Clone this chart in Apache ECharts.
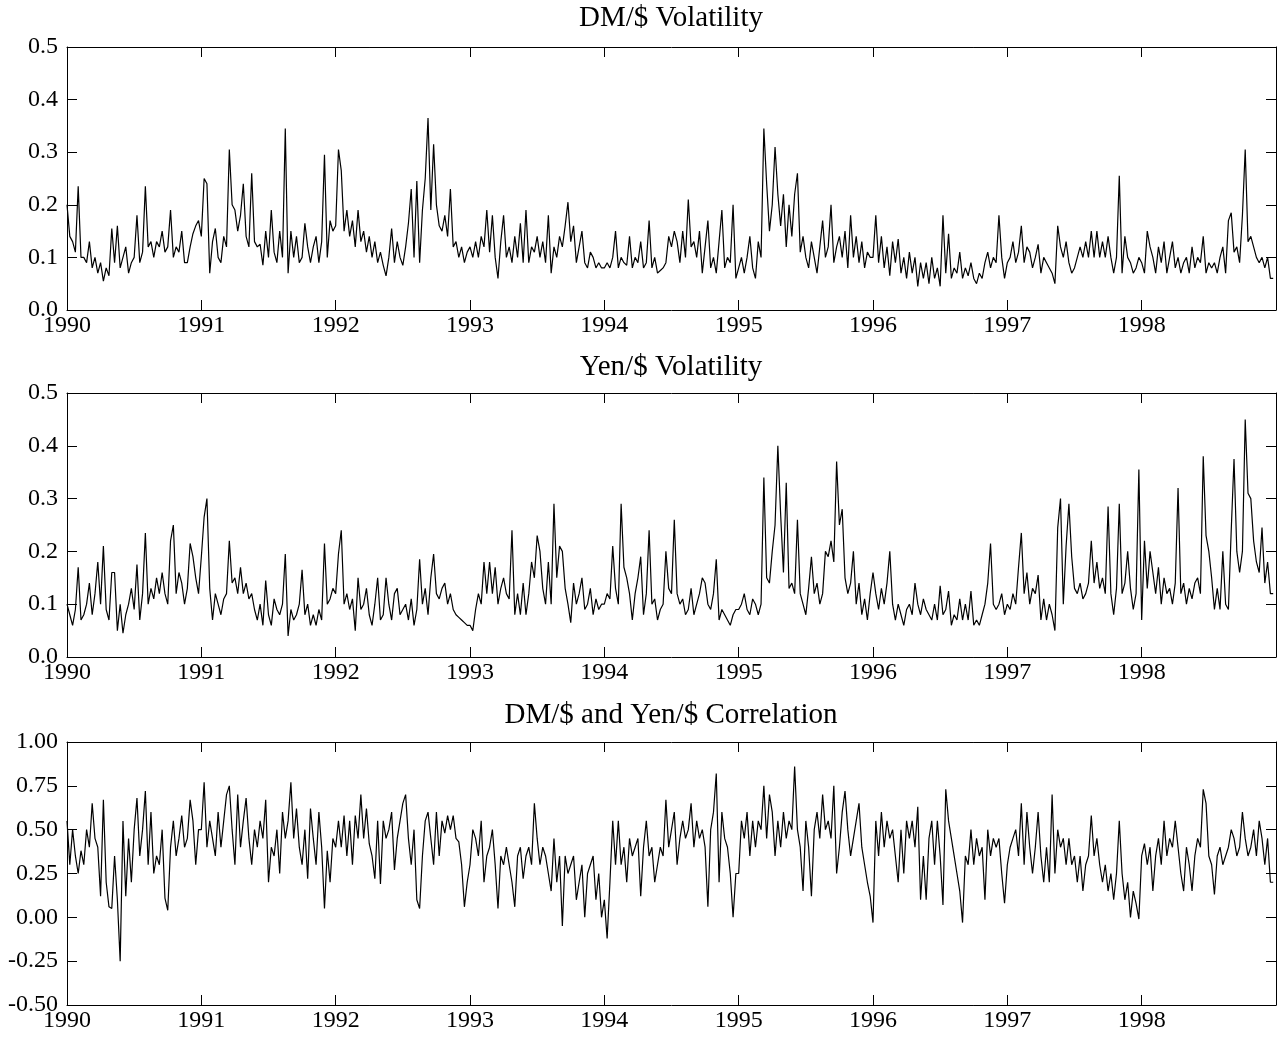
<!DOCTYPE html>
<html><head><meta charset="utf-8">
<script src="https://cdn.jsdelivr.net/npm/echarts@6/dist/echarts.min.js"></script>
<style>html,body{margin:0;padding:0;background:#fff}#c{width:1281px;height:1042px}</style>
</head><body><div id="c"></div>
<script>
// Sampling: 48 readings per year, starting 1990
const startYear = 1990;
const perYear = 48;
const yearTicks = [1990,1991,1992,1993,1994,1995,1996,1997,1998];
const panelTitles = ['DM/$ Volatility', 'Yen/$ Volatility', 'DM/$ and Yen/$ Correlation'];

const dmVol = [
// 1990
0.20,0.14,0.13,0.11,0.235,0.10,0.10,0.09,0.13,0.08,0.10,0.07,0.09,0.055,0.08,0.065,0.155,0.09,0.16,0.08,0.10,0.12,0.07,0.09,0.10,0.18,0.09,0.11,0.235,0.12,0.13,0.10,0.13,0.12,0.15,0.11,0.12,0.19,0.10,0.12,0.11,0.15,0.09,0.09,0.12,0.145,0.16,0.17,
// 1991
0.14,0.25,0.24,0.07,0.13,0.155,0.10,0.09,0.14,0.12,0.305,0.20,0.19,0.15,0.18,0.24,0.14,0.12,0.26,0.13,0.12,0.125,0.085,0.15,0.10,0.19,0.11,0.09,0.15,0.10,0.345,0.07,0.15,0.10,0.14,0.09,0.10,0.165,0.12,0.09,0.12,0.14,0.09,0.13,0.295,0.10,0.17,0.15,
// 1992
0.16,0.305,0.265,0.15,0.19,0.14,0.17,0.12,0.19,0.13,0.15,0.11,0.14,0.10,0.13,0.09,0.11,0.085,0.065,0.10,0.155,0.09,0.13,0.10,0.085,0.12,0.165,0.23,0.10,0.245,0.09,0.19,0.25,0.365,0.19,0.315,0.20,0.16,0.15,0.18,0.14,0.23,0.12,0.13,0.10,0.12,0.09,0.11,
// 1993
0.12,0.10,0.13,0.10,0.14,0.12,0.19,0.11,0.18,0.10,0.06,0.13,0.18,0.10,0.12,0.09,0.14,0.10,0.165,0.09,0.19,0.09,0.12,0.11,0.14,0.10,0.13,0.09,0.18,0.07,0.12,0.10,0.14,0.12,0.16,0.205,0.13,0.16,0.09,0.12,0.15,0.09,0.08,0.11,0.10,0.08,0.09,0.08,
// 1994
0.08,0.09,0.08,0.10,0.15,0.08,0.10,0.09,0.085,0.14,0.08,0.10,0.09,0.13,0.08,0.09,0.17,0.08,0.10,0.07,0.075,0.08,0.09,0.14,0.12,0.15,0.13,0.09,0.15,0.10,0.21,0.12,0.13,0.10,0.15,0.07,0.12,0.17,0.08,0.10,0.07,0.13,0.19,0.08,0.10,0.09,0.20,0.06,
// 1995
0.08,0.10,0.07,0.10,0.14,0.08,0.06,0.13,0.10,0.345,0.24,0.15,0.20,0.31,0.22,0.16,0.22,0.12,0.20,0.14,0.22,0.26,0.11,0.14,0.10,0.08,0.13,0.10,0.07,0.12,0.17,0.10,0.12,0.20,0.09,0.12,0.14,0.10,0.15,0.08,0.18,0.10,0.14,0.09,0.13,0.08,0.11,0.10,
// 1996
0.10,0.18,0.09,0.14,0.08,0.12,0.065,0.13,0.09,0.135,0.07,0.10,0.06,0.11,0.07,0.10,0.045,0.09,0.06,0.09,0.05,0.10,0.06,0.08,0.045,0.18,0.07,0.145,0.06,0.08,0.07,0.11,0.06,0.08,0.065,0.09,0.06,0.05,0.07,0.06,0.09,0.11,0.08,0.10,0.09,0.18,0.10,0.06,
// 1997
0.09,0.10,0.13,0.09,0.11,0.16,0.09,0.12,0.11,0.08,0.10,0.125,0.07,0.10,0.09,0.08,0.07,0.05,0.16,0.12,0.10,0.13,0.09,0.07,0.08,0.10,0.12,0.10,0.13,0.10,0.15,0.10,0.15,0.10,0.13,0.10,0.14,0.10,0.07,0.10,0.255,0.07,0.14,0.10,0.09,0.07,0.08,0.10,
// 1998
0.09,0.07,0.15,0.12,0.10,0.07,0.12,0.09,0.13,0.07,0.10,0.13,0.08,0.10,0.07,0.09,0.10,0.07,0.12,0.08,0.10,0.09,0.14,0.07,0.09,0.08,0.09,0.07,0.10,0.12,0.07,0.17,0.185,0.11,0.12,0.09,0.18,0.305,0.13,0.14,0.12,0.10,0.09,0.10,0.08,0.10,0.06,0.06
];

const yenVol = [
// 1990
0.10,0.08,0.06,0.09,0.17,0.07,0.08,0.10,0.14,0.08,0.12,0.18,0.10,0.21,0.09,0.07,0.16,0.16,0.05,0.10,0.045,0.08,0.10,0.13,0.09,0.175,0.07,0.12,0.235,0.10,0.13,0.11,0.15,0.12,0.16,0.12,0.10,0.22,0.25,0.12,0.16,0.14,0.10,0.13,0.215,0.19,0.15,0.12,
// 1991
0.19,0.265,0.30,0.13,0.07,0.12,0.10,0.08,0.11,0.12,0.22,0.14,0.15,0.12,0.17,0.12,0.14,0.11,0.12,0.09,0.07,0.10,0.06,0.145,0.08,0.06,0.11,0.09,0.08,0.10,0.195,0.04,0.09,0.07,0.08,0.10,0.165,0.08,0.10,0.06,0.08,0.06,0.09,0.07,0.215,0.10,0.11,0.13,
// 1992
0.12,0.195,0.24,0.10,0.12,0.09,0.11,0.05,0.15,0.09,0.10,0.13,0.08,0.06,0.10,0.15,0.07,0.08,0.15,0.10,0.07,0.12,0.13,0.08,0.09,0.10,0.07,0.11,0.06,0.09,0.185,0.10,0.13,0.08,0.15,0.195,0.12,0.11,0.13,0.14,0.10,0.12,0.09,0.08,0.075,0.07,0.065,0.06,
// 1993
0.06,0.05,0.09,0.12,0.10,0.18,0.12,0.18,0.12,0.17,0.10,0.13,0.15,0.12,0.11,0.24,0.08,0.12,0.08,0.14,0.08,0.12,0.18,0.15,0.23,0.20,0.13,0.10,0.18,0.10,0.29,0.15,0.21,0.20,0.13,0.10,0.065,0.14,0.10,0.12,0.15,0.09,0.10,0.13,0.08,0.11,0.09,0.10,
// 1994
0.10,0.12,0.11,0.21,0.13,0.10,0.29,0.17,0.15,0.12,0.07,0.12,0.15,0.19,0.08,0.12,0.24,0.10,0.11,0.07,0.09,0.10,0.20,0.13,0.12,0.26,0.12,0.10,0.11,0.08,0.09,0.13,0.08,0.10,0.12,0.15,0.14,0.10,0.09,0.12,0.185,0.07,0.09,0.08,0.07,0.06,0.08,0.09,
// 1995
0.09,0.10,0.12,0.09,0.08,0.11,0.10,0.08,0.10,0.34,0.15,0.14,0.20,0.25,0.40,0.27,0.16,0.33,0.13,0.14,0.12,0.26,0.12,0.10,0.08,0.13,0.19,0.12,0.14,0.10,0.12,0.20,0.19,0.22,0.18,0.37,0.25,0.28,0.15,0.12,0.14,0.20,0.10,0.14,0.08,0.11,0.07,0.12,
// 1996
0.16,0.12,0.09,0.13,0.10,0.14,0.20,0.10,0.07,0.10,0.08,0.06,0.09,0.10,0.08,0.14,0.10,0.08,0.11,0.09,0.08,0.07,0.10,0.07,0.135,0.08,0.09,0.125,0.06,0.08,0.07,0.11,0.07,0.10,0.07,0.125,0.06,0.07,0.06,0.08,0.10,0.14,0.215,0.10,0.09,0.10,0.12,0.08,
// 1997
0.10,0.09,0.12,0.10,0.17,0.235,0.12,0.16,0.10,0.13,0.12,0.155,0.07,0.11,0.07,0.10,0.08,0.05,0.245,0.30,0.10,0.21,0.29,0.19,0.13,0.12,0.14,0.11,0.12,0.14,0.22,0.14,0.18,0.13,0.15,0.12,0.285,0.12,0.08,0.13,0.29,0.12,0.14,0.20,0.13,0.09,0.12,0.355,
// 1998
0.07,0.22,0.13,0.20,0.16,0.12,0.17,0.10,0.15,0.12,0.13,0.10,0.14,0.32,0.12,0.14,0.10,0.13,0.11,0.14,0.15,0.12,0.38,0.23,0.20,0.15,0.09,0.13,0.09,0.20,0.10,0.09,0.24,0.375,0.20,0.16,0.20,0.45,0.31,0.30,0.22,0.18,0.16,0.245,0.14,0.18,0.12,0.12
];

const corr = [
// 1990
0.55,0.30,0.50,0.35,0.25,0.38,0.30,0.50,0.40,0.65,0.45,0.40,0.12,0.67,0.20,0.06,0.05,0.35,0.10,-0.25,0.55,0.12,0.45,0.20,0.50,0.68,0.35,0.50,0.72,0.30,0.60,0.25,0.35,0.30,0.50,0.11,0.04,0.40,0.55,0.35,0.45,0.58,0.40,0.45,0.67,0.55,0.30,0.50,
// 1991
0.50,0.77,0.40,0.55,0.45,0.35,0.60,0.40,0.55,0.70,0.75,0.50,0.30,0.70,0.40,0.55,0.68,0.45,0.30,0.50,0.40,0.55,0.45,0.67,0.20,0.40,0.35,0.50,0.25,0.60,0.45,0.55,0.77,0.45,0.62,0.40,0.30,0.50,0.22,0.62,0.45,0.30,0.60,0.40,0.05,0.38,0.20,0.45,
// 1992
0.40,0.55,0.40,0.58,0.35,0.55,0.30,0.58,0.45,0.70,0.45,0.62,0.42,0.35,0.22,0.55,0.19,0.55,0.45,0.50,0.60,0.27,0.45,0.55,0.65,0.70,0.45,0.30,0.50,0.10,0.05,0.35,0.55,0.60,0.45,0.30,0.60,0.35,0.55,0.48,0.58,0.50,0.58,0.45,0.43,0.30,0.06,0.20,
// 1993
0.30,0.50,0.45,0.35,0.55,0.20,0.35,0.40,0.50,0.30,0.05,0.35,0.30,0.40,0.30,0.20,0.06,0.35,0.40,0.22,0.35,0.40,0.30,0.65,0.45,0.30,0.40,0.35,0.25,0.15,0.45,0.20,0.35,-0.05,0.35,0.25,0.30,0.35,0.10,0.20,0.30,0.00,0.25,0.30,0.35,0.10,0.25,0.00,
// 1994
0.10,-0.12,0.20,0.55,0.30,0.55,0.30,0.40,0.20,0.45,0.35,0.40,0.45,0.12,0.40,0.55,0.35,0.40,0.20,0.30,0.40,0.35,0.67,0.40,0.50,0.60,0.30,0.45,0.55,0.45,0.50,0.65,0.40,0.55,0.45,0.50,0.40,0.06,0.50,0.60,0.82,0.20,0.60,0.45,0.40,0.25,0.00,0.25,
// 1995
0.25,0.55,0.45,0.60,0.35,0.55,0.40,0.55,0.50,0.75,0.45,0.70,0.60,0.35,0.55,0.40,0.60,0.45,0.55,0.50,0.86,0.50,0.40,0.15,0.55,0.40,0.12,0.50,0.60,0.45,0.70,0.50,0.55,0.45,0.75,0.25,0.40,0.60,0.72,0.50,0.35,0.45,0.55,0.65,0.40,0.30,0.20,0.12,
// 1996
-0.03,0.55,0.35,0.60,0.40,0.55,0.45,0.50,0.35,0.20,0.50,0.25,0.55,0.45,0.55,0.40,0.63,0.10,0.35,0.10,0.45,0.55,0.30,0.55,0.35,0.07,0.73,0.55,0.45,0.35,0.25,0.15,-0.03,0.35,0.30,0.50,0.30,0.45,0.35,0.40,0.10,0.50,0.35,0.45,0.40,0.45,0.25,0.08,
// 1997
0.30,0.40,0.45,0.50,0.35,0.65,0.30,0.60,0.40,0.25,0.40,0.60,0.35,0.20,0.40,0.20,0.70,0.25,0.50,0.40,0.45,0.30,0.45,0.30,0.35,0.20,0.35,0.15,0.30,0.35,0.58,0.35,0.45,0.30,0.20,0.30,0.15,0.25,0.10,0.25,0.55,0.25,0.10,0.20,0.00,0.15,0.08,-0.01,
// 1998
0.35,0.42,0.30,0.40,0.15,0.35,0.45,0.30,0.55,0.35,0.45,0.40,0.55,0.40,0.25,0.15,0.40,0.30,0.15,0.35,0.45,0.40,0.73,0.65,0.35,0.30,0.13,0.35,0.40,0.30,0.35,0.40,0.50,0.45,0.35,0.40,0.60,0.45,0.35,0.40,0.50,0.35,0.55,0.45,0.30,0.45,0.20,0.20
];

const panels = [
  {data: dmVol, min: 0, max: 0.5, step: 0.1, digits: 1},
  {data: yenVol, min: 0, max: 0.5, step: 0.1, digits: 1},
  {data: corr, min: -0.5, max: 1.0, step: 0.25, digits: 2}
];
const gridTops = [47, 393, 742];
const gridHeights = [263, 264, 263];
const titleYs = [18, 367, 715];

const FONT = 'Liberation Serif';
const lastYear = yearTicks[yearTicks.length - 1] + 1;

function toPoints(arr) { return arr.map((v, i) => [startYear + i / perYear, v]); }

const grid = [], xAxis = [], yAxis = [], series = [], graphic = [];
const axisLine = {show: true, onZero: false, lineStyle: {color: '#000', width: 1}};
const tick = {show: true, inside: true, length: 10, lineStyle: {color: '#000', width: 1}};

panels.forEach((p, k) => {
  grid.push({left: 67, right: 5, top: gridTops[k], height: gridHeights[k], containLabel: false});
  xAxis.push({
    type: 'value', gridIndex: k, position: 'bottom', min: startYear, max: lastYear, interval: 1,
    axisLine, axisTick: tick, splitLine: {show: false},
    axisLabel: {show: true, margin: 4, color: '#000', fontFamily: FONT, fontSize: 24, showMaxLabel: false,
      formatter: v => (v >= lastYear ? '' : String(Math.round(v)))}
  });
  xAxis.push({
    type: 'value', gridIndex: k, position: 'top', min: startYear, max: lastYear, interval: 1,
    axisLine, axisTick: tick, splitLine: {show: false}, axisLabel: {show: false}
  });
  yAxis.push({
    type: 'value', gridIndex: k, position: 'left', min: p.min, max: p.max, interval: p.step,
    axisLine, axisTick: tick, splitLine: {show: false},
    axisLabel: {show: true, margin: 9, color: '#000', fontFamily: FONT, fontSize: 24,
      formatter: v => v.toFixed(p.digits)}
  });
  yAxis.push({
    type: 'value', gridIndex: k, position: 'right', min: p.min, max: p.max, interval: p.step,
    axisLine, axisTick: tick, splitLine: {show: false}, axisLabel: {show: false}
  });
  series.push({
    type: 'line', xAxisIndex: 2 * k, yAxisIndex: 2 * k, data: toPoints(p.data),
    showSymbol: false, symbol: 'none', lineStyle: {color: '#000', width: 1.2}, silent: true, animation: false
  });
  graphic.push({
    type: 'text', x: 671, y: titleYs[k],
    style: {text: panelTitles[k], fill: '#000', fontFamily: FONT, fontSize: 29,
      align: 'center', verticalAlign: 'middle', textAlign: 'center', textVerticalAlign: 'middle'}
  });
});

const chart = echarts.init(document.getElementById('c'), null, {renderer: 'canvas'});
chart.setOption({backgroundColor: '#fff', animation: false, grid, xAxis, yAxis, series, graphic});
</script>
</body></html>
